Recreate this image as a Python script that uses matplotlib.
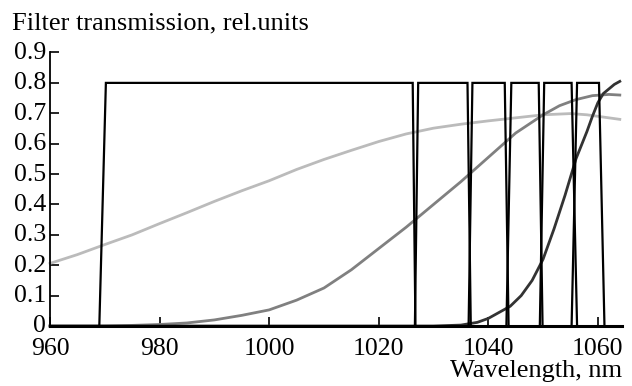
import matplotlib
matplotlib.use("Agg")
import matplotlib.pyplot as plt
import matplotlib.transforms as mtransforms

plt.rcParams['font.family'] = ['Liberation Serif', 'DejaVu Serif']

# Filter passbands: (bottom-left, top-left, top-right, bottom-right) wavelengths, nm
filter_edges = [
    (969.0, 970.2, 1026.2, 1026.7),
    (1026.6, 1027.2, 1036.2, 1036.8),
    (1036.4, 1037.1, 1043.0, 1043.7),
    (1043.3, 1044.2, 1049.2, 1049.9),
    (1049.4, 1050.2, 1055.2, 1056.2),
    (1055.2, 1056.2, 1060.2, 1061.2),
]
filter_levels = [0.0, 0.8, 0.8, 0.0]

# Light gray curve
lg_x = [960, 965, 970, 975, 980, 985, 990, 995, 1000, 1005, 1010, 1015, 1020,
        1025, 1030, 1035, 1040, 1045, 1050, 1055, 1058, 1060, 1062, 1064]
lg_y = [0.206, 0.235, 0.268, 0.300, 0.337, 0.373, 0.410, 0.445, 0.478, 0.515,
        0.548, 0.578, 0.607, 0.632, 0.651, 0.664, 0.675, 0.685, 0.695, 0.699,
        0.695, 0.690, 0.685, 0.680]

# Medium gray curve
mg_x = [960, 970, 975, 980, 985, 990, 995, 1000, 1005, 1010, 1015, 1020, 1025,
        1030, 1035, 1040, 1045, 1050, 1053, 1056, 1059, 1062, 1064]
mg_y = [0.0, 0.0, 0.002, 0.005, 0.010, 0.020, 0.035, 0.053, 0.085, 0.125, 0.185,
        0.255, 0.325, 0.400, 0.475, 0.555, 0.635, 0.695, 0.725, 0.745, 0.758,
        0.762, 0.760]

# Dark curve
dk_x = [960, 1030, 1035, 1038, 1040, 1042, 1044, 1046, 1048, 1050, 1052, 1054,
        1056, 1058, 1059, 1060, 1061, 1062, 1063, 1064]
dk_y = [0.0, 0.0, 0.003, 0.012, 0.025, 0.045, 0.065, 0.100, 0.150, 0.220, 0.320,
        0.430, 0.550, 0.640, 0.690, 0.735, 0.765, 0.780, 0.795, 0.805]

x_ticks = [960, 980, 1000, 1020, 1040, 1060]
x_ticklabels = ['960', '980', '1000', '1020', '1040', '1060']
y_ticks = [0, 0.1, 0.2, 0.3, 0.4, 0.5, 0.6, 0.7, 0.8, 0.9]
y_ticklabels = ['0', '0.1', '0.2', '0.3', '0.4', '0.5', '0.6', '0.7', '0.8', '0.9']

fig = plt.figure(figsize=(6.32, 3.86), dpi=100)
ax = fig.add_axes([50/632, 1-326/386, (622-50)/632, (326-52.5)/386])

ax.plot(lg_x, lg_y, color='#bbbbbb', lw=2.0, zorder=2, clip_on=False)
ax.plot(mg_x, mg_y, color='#808080', lw=2.0, zorder=2, clip_on=False)
ax.plot(dk_x, dk_y, color='#333333', lw=2.0, zorder=2, clip_on=False)
for edges in filter_edges:
    ax.plot(edges, filter_levels, color='black', lw=1.6, zorder=3,
            solid_joinstyle='miter')

ax.set_xlim(960, 1064.4)
ax.set_ylim(0, 0.9)
ax.set_xticks(x_ticks)
ax.set_xticklabels(x_ticklabels)
ax.set_yticks(y_ticks)
ax.set_yticklabels(y_ticklabels)
ax.spines['top'].set_visible(False)
ax.spines['right'].set_visible(False)
ax.spines['left'].set_linewidth(1.3)
ax.spines['bottom'].set_linewidth(2.2)
ax.tick_params(axis='both', direction='in', length=6.5, width=1.2,
               labelsize=18.5)
ax.tick_params(axis='y', pad=3)
ax.tick_params(axis='x', pad=8.5)

# nudge y tick labels up slightly, as in the reference
offset = mtransforms.ScaledTranslation(0, 2/100, fig.dpi_scale_trans)
for lab in ax.get_yticklabels():
    lab.set_transform(lab.get_transform() + offset)

fig.text(12/632, 1-29/386, 'Filter transmission, rel.units', fontsize=19,
         ha='left', va='baseline')
fig.text(622/632, 1-377/386, 'Wavelength, nm', fontsize=19,
         ha='right', va='baseline')

fig.savefig('out.png', dpi=100)
